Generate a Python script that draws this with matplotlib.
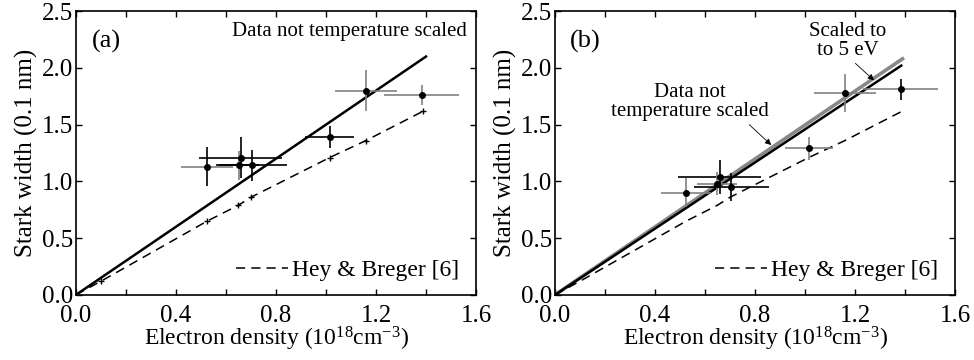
import numpy as np
import matplotlib.pyplot as plt
from matplotlib.ticker import MultipleLocator
from matplotlib.transforms import ScaledTranslation

plt.rcParams['font.family'] = ['Liberation Serif', 'DejaVu Serif']
plt.rcParams['mathtext.fontset'] = 'custom'
plt.rcParams['mathtext.rm'] = 'Liberation Serif'
plt.rcParams['mathtext.default'] = 'regular'

# Panel (a): measured points, not temperature scaled
ne_a = [0.525, 0.659, 0.651, 0.704, 1.015, 1.160, 1.384]
w_a = [1.13, 1.21, 1.14, 1.14, 1.39, 1.80, 1.76]
xerr_a = [0.105, 0.167, 0.08, 0.142, 0.097, 0.125, 0.15]
yerr_a = [0.17, 0.18, 0.13, 0.14, 0.10, 0.18, 0.09]
col_a = ['gray', 'black', 'black', 'black', 'black', 'gray', 'gray']
ycol_a = ['black', 'black', 'gray', 'black', 'black', 'gray', 'gray']

# Panel (b): measured points
ne_b = [0.525, 0.659, 0.650, 0.705, 1.016, 1.160, 1.383]
w_b = [0.90, 1.04, 0.98, 0.95, 1.29, 1.78, 1.81]
xerr_b = [0.10, 0.167, 0.08, 0.15, 0.095, 0.125, 0.15]
yerr_b = [0.13, 0.15, 0.10, 0.12, 0.10, 0.17, 0.09]
col_b = ['gray', 'black', 'gray', 'black', 'gray', 'gray', 'gray']
ycol_b = ['gray', 'black', 'gray', 'black', 'gray', 'gray', 'black']

# Fits
fit_x = [0.0, 1.40]
fit_a = [0.0, 2.10]
fit_b_x = [0.0, 1.385]
fit_b = [0.0, 2.02]
fit_b5_x = [0.0, 1.39]
fit_b5 = [0.0, 2.08]

# Hey & Breger [6]
hb_x = [0.0, 0.10, 0.525, 0.65, 0.70, 1.015, 1.16, 1.39]
hb_y = [0.0, 0.12, 0.65, 0.79, 0.86, 1.21, 1.36, 1.62]

fig = plt.figure(figsize=(9.74, 3.6), dpi=100)
ax1 = fig.add_axes([0.078, 0.181, 0.4107, 0.788])
ax2 = fig.add_axes([0.5698, 0.181, 0.4107, 0.788])


def style(ax):
    ax.set_xlim(0, 1.6)
    ax.set_ylim(0, 2.5)
    ax.xaxis.set_major_locator(MultipleLocator(0.4))
    ax.xaxis.set_minor_locator(MultipleLocator(0.2))
    ax.yaxis.set_major_locator(MultipleLocator(0.5))
    ax.xaxis.set_major_formatter(plt.FormatStrFormatter('%.1f'))
    ax.yaxis.set_major_formatter(plt.FormatStrFormatter('%.1f'))
    ax.tick_params(which='both', direction='in', top=True, right=True,
                   length=4, width=1, labelsize=18)
    ax.tick_params(axis='x', pad=7)
    ax.tick_params(axis='y', pad=2)
    for s in ax.spines.values():
        s.set_linewidth(1.2)
    ax.set_xlabel('Electron density (10$^{18}$cm$^{-3}$)', fontsize=17, labelpad=-1)
    ax.set_ylabel('Stark width (0.1 nm)', fontsize=18, labelpad=3)


def points(ax, x, y, xe, ye, xc, yc):
    for i in range(len(x)):
        ax.errorbar(x[i], y[i], xerr=xe[i], fmt='none', ecolor=xc[i], elinewidth=1.2, capsize=0)
        ax.errorbar(x[i], y[i], yerr=ye[i], fmt='none', ecolor=yc[i], elinewidth=1.2, capsize=0)
    ax.plot(x, y, 'o', color='black', ms=4, zorder=5)


arrow = dict(arrowstyle='-|>', color='black', lw=0.6, mutation_scale=9, shrinkA=1, shrinkB=0)

# (a)
style(ax1)
ax1.plot(fit_x, fit_a, color='black', lw=1.8)
ax1.plot(hb_x, hb_y, color='black', lw=1.1, ls=(0, (6, 4)), label='Hey & Breger [6]')
ax1.plot(hb_x[1:], hb_y[1:], ls='none', color='black', marker='+', ms=5)
points(ax1, ne_a, w_a, xerr_a, yerr_a, col_a, ycol_a)
ax1.text(0.12, 2.23, '(a)', fontsize=19, ha='center', va='center')
ax1.text(1.565, 2.32, 'Data not temperature scaled', fontsize=15, ha='right', va='center')
ax1.legend(loc='lower right', bbox_to_anchor=(1.0, -0.01), frameon=False, fontsize=17,
           handlelength=2.2, handletextpad=0.2, borderaxespad=0.3)

# (b)
style(ax2)
ax2.plot(fit_b5_x, fit_b5, color='#888888', lw=2.6)
ax2.plot(fit_b_x, fit_b, color='black', lw=1.8)
ax2.plot(hb_x, hb_y, color='black', lw=1.1, ls=(0, (6, 4)), label='Hey & Breger [6]')
points(ax2, ne_b, w_b, xerr_b, yerr_b, col_b, ycol_b)
ax2.text(0.12, 2.23, '(b)', fontsize=19, ha='center', va='center')
ax2.annotate('Data not\ntemperature scaled', xy=(0.865, 1.32), xytext=(0.54, 1.70),
             fontsize=15, ha='center', va='center', linespacing=1.0,
             arrowprops=dict(arrow, relpos=(0.85, 0.0)))
ax2.annotate('Scaled to\nto 5 eV', xy=(1.276, 1.89), xytext=(1.17, 2.24),
             fontsize=15, ha='center', va='center', linespacing=1.0,
             arrowprops=dict(arrow, relpos=(0.55, 0.0)))
ax2.legend(loc='lower right', bbox_to_anchor=(1.0, -0.01), frameon=False, fontsize=17,
           handlelength=2.2, handletextpad=0.2, borderaxespad=0.3)

# the reference lifts the bottom y label a little off the corner
fig.canvas.draw()
for ax in (ax1, ax2):
    lbl = ax.yaxis.get_major_ticks()[0].label1
    lbl.set_transform(lbl.get_transform() + ScaledTranslation(0, 4 / 72, fig.dpi_scale_trans))

fig.savefig('out.png', dpi=100)
